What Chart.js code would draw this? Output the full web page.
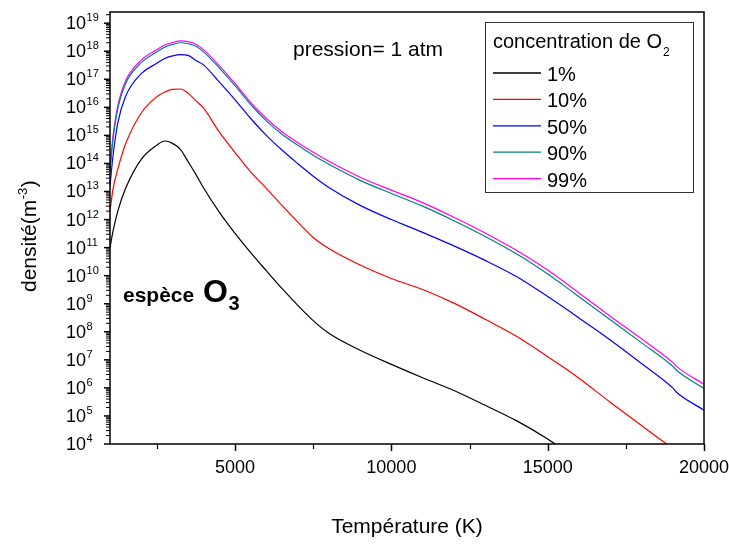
<!DOCTYPE html>
<html>
<head>
<meta charset="utf-8">
<script src="https://cdn.jsdelivr.net/npm/chart.js@4.4.1/dist/chart.umd.min.js"></script>
<style>
  html, body { margin: 0; padding: 0; background: #fff; }
</style>
</head>
<body>
<canvas id="chartO3" width="729" height="545"></canvas>
<script>
// temperature grid (K) and densities (m^-3)
const temperature = [1000, 1100, 1250, 1500, 2000, 2500, 2750, 3000, 3250, 3500, 3750, 4000,
  4500, 5000, 5500, 6000, 6500, 7000, 7500, 8000, 9000, 10000, 11000, 12000, 13000, 14000,
  15000, 15500, 16000, 17000, 18000, 19000, 19150, 20000];

const dens1 = [1.0e11, 4.0e11, 2.0e12, 1.3e13, 1.4e14, 4.5e14, 6.3e14, 5.2e14, 3.2e14, 1.15e14, 4.0e13, 1.3e13,
  1.8e12, 3.2e11, 6.6e10, 1.5e10, 3.5e9, 8.9e8, 2.5e8, 8.9e7, 2.2e7, 6.9e6, 2.3e6, 8.1e5, 2.4e5, 6.8e4,
  1.5e4, 6.3e3, null, null, null, null, null, null];
const dens10 = [2.0e12, 1.3e13, 6.3e13, 5.0e14, 6.3e15, 2.4e16, 3.5e16, 4.4e16, 4.5e16, 3.2e16, 1.7e16, 9.1e15,
  1.3e15, 2.45e14, 5.0e13, 1.3e13, 3.2e12, 8.3e11, 2.3e11, 9.3e10, 2.4e10, 7.9e9, 3.2e9, 1.05e9, 2.8e8, 6.9e7,
  1.3e7, 5.5e6, 2.2e6, 3.1e5, 4.6e4, 7.1e3, 5.6e3, 1.0e3];
const dens50 = [1.6e13, 2.0e14, 2.8e15, 2.5e16, 1.6e17, 3.7e17, 5.5e17, 6.8e17, 7.6e17, 7.1e17, 4.7e17, 3.2e17,
  7.9e16, 1.86e16, 4.0e15, 1.0e15, 3.0e14, 1.0e14, 3.5e13, 1.4e13, 3.2e12, 1.0e12, 3.5e11, 1.15e11, 3.5e10, 9.3e9,
  1.8e9, 7.6e8, 3.1e8, 5.1e7, 7.4e6, 1.0e6, 6.6e5, 1.6e5];
const dens90 = [5.6e13, 7.9e14, 8.9e15, 7.1e16, 3.9e17, 9.5e17, 1.4e18, 1.75e18, 2.0e18, 1.85e18, 1.5e18, 9.3e17,
  2.5e17, 5.9e16, 1.26e16, 3.3e15, 1.1e15, 4.5e14, 1.95e14, 9.3e13, 2.5e13, 8.5e12, 3.0e12, 9.1e11, 2.5e11, 6.0e10,
  1.15e10, 4.6e9, 1.78e9, 2.7e8, 4.1e7, 5.9e6, 4.0e6, 9.5e5];
const dens99 = [7.1e13, 1.0e15, 1.12e16, 8.9e16, 4.8e17, 1.15e18, 1.66e18, 2.04e18, 2.34e18, 2.19e18, 1.78e18, 1.12e18,
  3.0e17, 7.1e16, 1.5e16, 4.0e15, 1.35e15, 5.6e14, 2.5e14, 1.2e14, 3.24e13, 1.12e13, 4.0e12, 1.2e12, 3.3e11, 8.1e10,
  1.58e10, 6.3e9, 2.4e9, 3.6e8, 5.6e7, 8.1e6, 5.5e6, 1.35e6];

const seriesLabels = ['1%', '10%', '50%', '90%', '99%'];
const seriesColors = ['#000000', '#ff0000', '#0000ff', '#008080', '#ff00ff'];
const seriesValues = [dens1, dens10, dens50, dens90, dens99];

const xTickValues = [5000, 10000, 15000, 20000];
const xMinorValues = [2500, 7500, 12500, 17500];
const yTickExponents = [4, 5, 6, 7, 8, 9, 10, 11, 12, 13, 14, 15, 16, 17, 18, 19];

const FONT = "'Liberation Sans', Arial, sans-serif";

const decorPlugin = {
  id: 'decor',
  afterDraw(chart) {
    const { ctx, chartArea: a, scales: { x, y } } = chart;
    ctx.save();
    ctx.strokeStyle = '#000';
    ctx.fillStyle = '#000';

    // frame
    ctx.lineWidth = 1.5;
    ctx.strokeRect(a.left, a.top, a.right - a.left, a.bottom - a.top);

    // x tick marks (outside, downwards)
    xTickValues.forEach(v => {
      const px = Math.round(x.getPixelForValue(v)) + 0.5;
      ctx.lineWidth = 1.5;
      ctx.beginPath(); ctx.moveTo(px, a.bottom); ctx.lineTo(px, a.bottom + 7); ctx.stroke();
    });
    xMinorValues.forEach(v => {
      const px = Math.round(x.getPixelForValue(v)) + 0.5;
      ctx.lineWidth = 1.2;
      ctx.beginPath(); ctx.moveTo(px, a.bottom); ctx.lineTo(px, a.bottom + 5); ctx.stroke();
    });

    // y tick marks + labels 10^n
    yTickExponents.forEach(n => {
      const py = y.getPixelForValue(Math.pow(10, n));
      ctx.lineWidth = 1.5;
      ctx.beginPath(); ctx.moveTo(a.left, py); ctx.lineTo(a.left - 6, py); ctx.stroke();
      for (let k = 2; k <= 9; k++) {
        const v = k * Math.pow(10, n);
        if (v > y.max) break;
        const pm = y.getPixelForValue(v);
        ctx.lineWidth = 1;
        ctx.beginPath(); ctx.moveTo(a.left, pm); ctx.lineTo(a.left - 4, pm); ctx.stroke();
      }
      ctx.font = '18px ' + FONT;
      ctx.textAlign = 'left';
      ctx.textBaseline = 'middle';
      ctx.fillText('10', 66, py + 1);
      const w = ctx.measureText('10').width;
      ctx.font = '11px ' + FONT;
      ctx.textBaseline = 'alphabetic';
      ctx.fillText(String(n), 66 + w + 0.5, py - 2);
    });

    // y title: densité(m^-3)
    ctx.save();
    ctx.translate(36, 292);
    ctx.rotate(-Math.PI / 2);
    ctx.textAlign = 'left';
    ctx.textBaseline = 'alphabetic';
    ctx.font = '21px ' + FONT;
    ctx.fillText('densité(m', 0, 0);
    let tx = ctx.measureText('densité(m').width;
    ctx.font = '13px ' + FONT;
    ctx.fillText('-3', tx + 0.5, -9);
    tx += ctx.measureText('-3').width + 1;
    ctx.font = '21px ' + FONT;
    ctx.fillText(')', tx, 0);
    ctx.restore();

    // legend box
    const lx = 485, ly = 22, lw = 208, lh = 170;
    ctx.fillStyle = '#fff';
    ctx.fillRect(lx, ly, lw, lh);
    ctx.strokeStyle = '#333';
    ctx.lineWidth = 1;
    ctx.strokeRect(lx + 0.5, ly + 0.5, lw, lh);
    ctx.fillStyle = '#000';
    ctx.textAlign = 'left';
    ctx.textBaseline = 'alphabetic';
    ctx.font = '20px ' + FONT;
    ctx.fillText('concentration de O', 493, 48);
    const tw = ctx.measureText('concentration de O').width;
    ctx.font = '12px ' + FONT;
    ctx.fillText('2', 493 + tw + 1, 56);
    seriesLabels.forEach((lab, i) => {
      const base = 81 + i * 26.4;
      ctx.strokeStyle = seriesColors[i];
      ctx.lineWidth = 1.3;
      ctx.beginPath(); ctx.moveTo(493, base - 8); ctx.lineTo(541, base - 8); ctx.stroke();
      ctx.fillStyle = '#000';
      ctx.font = '20px ' + FONT;
      ctx.fillText(lab, 547, base);
    });

    // annotations
    ctx.font = '21px ' + FONT;
    ctx.fillText('pression= 1 atm', 293, 56);
    ctx.font = 'bold 21px ' + FONT;
    ctx.fillText('espèce', 123, 302);
    ctx.font = 'bold 32px ' + FONT;
    ctx.fillText('O', 203, 302);
    const ow = ctx.measureText('O').width;
    ctx.font = 'bold 20px ' + FONT;
    ctx.fillText('3', 203 + ow + 0.5, 309.5);

    ctx.restore();
  }
};

const datasets = seriesValues.map((vals, i) => ({
  label: seriesLabels[i],
  data: temperature.map((t, j) => ({ x: t, y: vals[j] })),
  borderColor: seriesColors[i],
  backgroundColor: seriesColors[i],
  borderWidth: 1.2,
  pointRadius: 0,
  fill: false,
  cubicInterpolationMode: 'monotone',
}));

const chartO3 = new Chart(document.getElementById('chartO3').getContext('2d'), {
  type: 'line',
  data: { datasets: datasets },
  options: {
    responsive: false,
    animation: false,
    layout: { padding: { top: 12, right: 0, bottom: 0, left: 0 } },
    scales: {
      x: {
        type: 'linear',
        min: 1000,
        max: 20000,
        afterBuildTicks: scale => { scale.ticks = xTickValues.map(v => ({ value: v })); },
        afterFit: scale => { scale.height = 101; scale.paddingRight = 25; scale.paddingLeft = 0; },
        grid: { display: false, drawTicks: false },
        border: { display: false },
        ticks: {
          color: '#000',
          padding: 13,
          maxRotation: 0,
          autoSkip: false,
          font: { family: FONT, size: 18 },
          callback: value => String(value),
        },
        title: {
          display: true,
          text: 'Température (K)',
          color: '#000',
          font: { family: FONT, size: 21 },
          padding: { top: 0, bottom: 5 },
        },
      },
      y: {
        type: 'logarithmic',
        min: 1e4,
        max: 2.5e19,
        afterBuildTicks: scale => { scale.ticks = yTickExponents.map(n => ({ value: Math.pow(10, n) })); },
        afterFit: scale => { scale.width = 110; },
        grid: { display: false, drawTicks: false },
        border: { display: false },
        ticks: { display: false },
      },
    },
    plugins: {
      legend: { display: false },
      tooltip: { enabled: false },
    },
  },
  plugins: [decorPlugin],
});
</script>
</body>
</html>
